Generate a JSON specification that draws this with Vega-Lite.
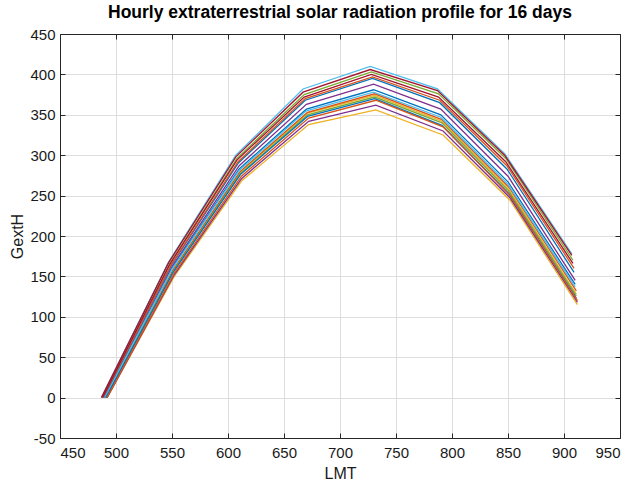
{
  "$schema": "https://vega.github.io/schema/vega-lite/v6.json",
  "width": 560,
  "height": 404,
  "autosize": {"type": "none"},
  "padding": {"left": 60, "top": 34, "right": 24, "bottom": 48},
  "background": "white",
  "title": {"text": "Hourly extraterrestrial solar radiation profile for 16 days", "font": "Liberation Sans", "fontSize": 17.5, "fontWeight": "bold", "color": "black", "anchor": "middle", "offset": 6},
  "config": {
    "view": {"stroke": null},
    "axis": {
      "domainColor": "#262626", "domainWidth": 1, "tickColor": "#262626", "tickSize": -5,
      "labelFont": "Liberation Sans", "labelFontSize": 15, "labelColor": "#1a1a1a",
      "titleFont": "Liberation Sans", "titleFontSize": 16, "titleFontWeight": "normal", "titleColor": "#1a1a1a",
      "gridColor": "#dedede", "gridWidth": 1
    }
  },
  "data": {"values": [
    {"day":1,"t":489,"g":0},{"day":1,"t":549,"g":163},{"day":1,"t":609,"g":290},{"day":1,"t":669,"g":368},{"day":1,"t":729,"g":395},{"day":1,"t":789,"g":365},{"day":1,"t":849,"g":283},{"day":1,"t":909,"g":155},
    {"day":2,"t":489,"g":0},{"day":2,"t":549,"g":164},{"day":2,"t":609,"g":292},{"day":2,"t":669,"g":370},{"day":2,"t":729,"g":397},{"day":2,"t":789,"g":368},{"day":2,"t":849,"g":287},{"day":2,"t":909,"g":160},
    {"day":3,"t":491,"g":0},{"day":3,"t":551,"g":157},{"day":3,"t":611,"g":279},{"day":3,"t":671,"g":352},{"day":3,"t":731,"g":374},{"day":3,"t":791,"g":342},{"day":3,"t":851,"g":257},{"day":3,"t":911,"g":128},
    {"day":4,"t":490,"g":0},{"day":4,"t":550,"g":162},{"day":4,"t":610,"g":287},{"day":4,"t":670,"g":363},{"day":4,"t":730,"g":388},{"day":4,"t":790,"g":357},{"day":4,"t":850,"g":274},{"day":4,"t":910,"g":145},
    {"day":5,"t":488,"g":0},{"day":5,"t":548,"g":166},{"day":5,"t":608,"g":296},{"day":5,"t":668,"g":375},{"day":5,"t":728,"g":403},{"day":5,"t":788,"g":376},{"day":5,"t":848,"g":296},{"day":5,"t":908,"g":170},
    {"day":6,"t":487,"g":0},{"day":6,"t":547,"g":168},{"day":6,"t":607,"g":300},{"day":6,"t":667,"g":382},{"day":6,"t":727,"g":410},{"day":6,"t":787,"g":382},{"day":6,"t":847,"g":302},{"day":6,"t":907,"g":178},
    {"day":7,"t":487,"g":0},{"day":7,"t":547,"g":167},{"day":7,"t":607,"g":298},{"day":7,"t":667,"g":378},{"day":7,"t":727,"g":406},{"day":7,"t":787,"g":380},{"day":7,"t":847,"g":300},{"day":7,"t":907,"g":176},
    {"day":8,"t":490,"g":0},{"day":8,"t":550,"g":160},{"day":8,"t":610,"g":283},{"day":8,"t":670,"g":357},{"day":8,"t":730,"g":381},{"day":8,"t":790,"g":350},{"day":8,"t":850,"g":267},{"day":8,"t":910,"g":140},
    {"day":9,"t":491,"g":0},{"day":9,"t":551,"g":158},{"day":9,"t":611,"g":280},{"day":9,"t":671,"g":353},{"day":9,"t":731,"g":376},{"day":9,"t":791,"g":344},{"day":9,"t":851,"g":260},{"day":9,"t":911,"g":132},
    {"day":10,"t":492,"g":0},{"day":10,"t":552,"g":150},{"day":10,"t":612,"g":268},{"day":10,"t":672,"g":338},{"day":10,"t":732,"g":356},{"day":10,"t":792,"g":325},{"day":10,"t":852,"g":244},{"day":10,"t":912,"g":115},
    {"day":11,"t":492,"g":0},{"day":11,"t":552,"g":152},{"day":11,"t":612,"g":271},{"day":11,"t":672,"g":342},{"day":11,"t":732,"g":362},{"day":11,"t":792,"g":330},{"day":11,"t":852,"g":247},{"day":11,"t":912,"g":118},
    {"day":12,"t":491,"g":0},{"day":12,"t":551,"g":156},{"day":12,"t":611,"g":277},{"day":12,"t":671,"g":350},{"day":12,"t":731,"g":372},{"day":12,"t":791,"g":340},{"day":12,"t":851,"g":255},{"day":12,"t":911,"g":126},
    {"day":13,"t":490,"g":0},{"day":13,"t":550,"g":159},{"day":13,"t":610,"g":281},{"day":13,"t":670,"g":355},{"day":13,"t":730,"g":378},{"day":13,"t":790,"g":347},{"day":13,"t":850,"g":264},{"day":13,"t":910,"g":137},
    {"day":14,"t":488,"g":0},{"day":14,"t":548,"g":165},{"day":14,"t":608,"g":294},{"day":14,"t":668,"g":372},{"day":14,"t":728,"g":400},{"day":14,"t":788,"g":372},{"day":14,"t":848,"g":292},{"day":14,"t":908,"g":166},
    {"day":15,"t":491,"g":0},{"day":15,"t":551,"g":155},{"day":15,"t":611,"g":276},{"day":15,"t":671,"g":348},{"day":15,"t":731,"g":370},{"day":15,"t":791,"g":337},{"day":15,"t":851,"g":252},{"day":15,"t":911,"g":123},
    {"day":16,"t":492,"g":0},{"day":16,"t":552,"g":154},{"day":16,"t":612,"g":274},{"day":16,"t":672,"g":346},{"day":16,"t":732,"g":368},{"day":16,"t":792,"g":335},{"day":16,"t":852,"g":250},{"day":16,"t":912,"g":120}
  ]},
  "layer": [
    {
      "mark": {"type": "line", "strokeWidth": 1.3},
      "encoding": {
        "x": {"field": "t", "type": "quantitative", "scale": {"domain": [450, 950], "nice": false, "zero": false},
              "axis": {"title": "LMT", "values": [450,500,550,600,650,700,750,800,850,900,950], "labelPadding": 12, "titlePadding": 5, "grid": true}},
        "y": {"field": "g", "type": "quantitative", "scale": {"domain": [-50, 450], "nice": false, "zero": false},
              "axis": {"title": "GextH", "values": [-50,0,50,100,150,200,250,300,350,400,450], "labelExpr": "'' + datum.value", "labelPadding": 10, "titlePadding": 4, "grid": true}},
        "color": {"field": "day", "type": "nominal", "legend": null,
                  "scale": {"domain": [1,2,3,4,5,6,7,8,9,10,11,12,13,14,15,16],
                            "range": ["#0072BD","#D95319","#EDB120","#7E2F8E","#77AC30","#4DBEEE","#A2142F","#0072BD","#D95319","#EDB120","#7E2F8E","#77AC30","#4DBEEE","#A2142F","#0072BD","#D95319"]}},
        "order": {"field": "t", "type": "quantitative"}
      }
    },
    {
      "mark": {"type": "line", "opacity": 0},
      "encoding": {
        "x": {"field": "t", "type": "quantitative", "scale": {"domain": [450, 950], "nice": false, "zero": false},
              "axis": {"orient": "top", "title": null, "labels": false, "grid": false, "values": [450,500,550,600,650,700,750,800,850,900,950]}},
        "y": {"field": "g", "type": "quantitative", "scale": {"domain": [-50, 450], "nice": false, "zero": false},
              "axis": {"orient": "right", "title": null, "labels": false, "grid": false, "values": [-50,0,50,100,150,200,250,300,350,400,450]}},
        "detail": {"field": "day", "type": "nominal"}
      }
    }
  ],
  "resolve": {"axis": {"x": "independent", "y": "independent"}}
}
